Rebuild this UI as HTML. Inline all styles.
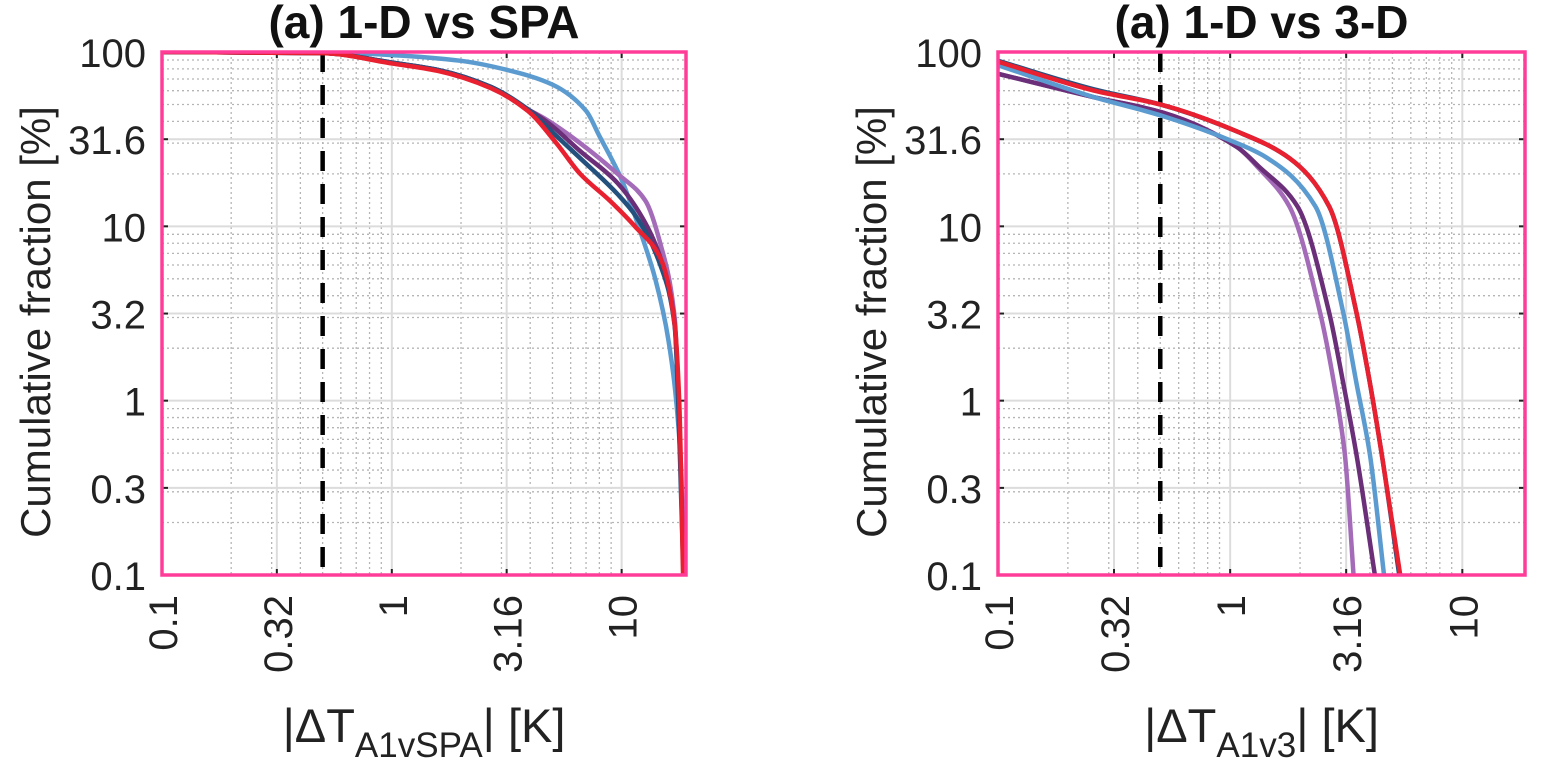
<!DOCTYPE html>
<html><head><meta charset="utf-8">
<style>
html,body{margin:0;padding:0;background:#fff;}
svg{display:block;font-family:"Liberation Sans",Arial,sans-serif;}
</style></head>
<body>
<svg id="fig" width="1542" height="763" viewBox="0 0 1542 763"></svg>
<script>
// ---- data ----
const yTickValues = [0.1, 0.316, 1, 3.16, 10, 31.6, 100];
const yTickLabels = ["0.1", "0.3", "1", "3.2", "10", "31.6", "100"];
const xTickValues = [0.1, 0.316, 1, 3.16, 10];
const xTickLabels = ["0.1", "0.32", "1", "3.16", "10"];
const thresholdK = 0.5;

const seriesNames = ["light-blue", "navy", "dark-purple", "light-purple", "red"];
const seriesColors = ["#5b9bd0", "#24507e", "#6a2f78", "#a36bb8", "#e8202f"];

// Left panel (1-D vs SPA)
const leftLightBlueX = [0.1, 0.3, 0.5, 1, 2, 3.16, 5, 7, 8, 10, 12, 14, 16, 18, 18.8];
const leftLightBlueY = [100, 99.9, 99.6, 96, 89, 79, 65, 46, 33, 18.5, 9.5, 5, 2.2, 0.5, 0.1];
const leftNavyX = [0.1, 0.5, 1, 1.58, 2.7, 3.9, 5.2, 6.6, 9.6, 11.5, 14.8, 17, 18.6];
const leftNavyY = [100, 98.5, 87, 79, 63, 47, 33, 24.6, 15.3, 11.5, 5.9, 2.7, 0.1];
const leftDarkPurpleX = [0.1, 0.5, 1, 1.58, 2.7, 3.9, 4.7, 6.6, 9.6, 12.7, 14.8, 17, 18.7];
const leftDarkPurpleY = [100, 98.5, 87, 79, 63, 47, 40, 27, 17.7, 10.4, 6.5, 2.8, 0.1];
const leftLightPurpleX = [0.1, 0.5, 1, 1.58, 2.7, 3.9, 4.7, 6.6, 9.6, 12.7, 14.8, 17, 18.7];
const leftLightPurpleY = [100, 98.5, 87, 79, 63, 47, 41, 30, 20, 14, 7.8, 3, 0.1];
const leftRedX = [0.1, 0.5, 1, 1.58, 2.7, 3.9, 5.2, 6.6, 8.9, 11.5, 14.8, 17, 17.8, 18.5];
const leftRedY = [100, 98.5, 86, 78, 62, 46, 30, 20, 14, 9.9, 6.5, 2.75, 1, 0.1];

// Right panel (1-D vs 3-D)
const rightLightBlueX = [0.1, 0.26, 0.51, 1.07, 1.42, 2.33, 3.07, 3.5, 4.0, 4.6];
const rightLightBlueY = [84, 55, 43, 30, 25, 13, 3.2, 1.26, 0.49, 0.1];
const rightNavyX = [0.1, 0.26, 0.5, 1.07, 1.8, 2.67, 3.5, 4.0, 4.5, 5.35];
const rightNavyY = [89, 61, 50, 35, 24.6, 13, 3.2, 1.26, 0.49, 0.1];
const rightDarkPurpleX = [0.1, 0.26, 0.51, 1.07, 1.33, 1.95, 2.67, 3.07, 3.5, 4.2];
const rightDarkPurpleY = [75, 55, 45, 28.5, 22, 13, 3.2, 1.26, 0.49, 0.1];
const rightLightPurpleX = [0.1, 0.26, 0.51, 1.07, 1.33, 1.8, 2.44, 2.8, 3.12, 3.4];
const rightLightPurpleY = [75, 55, 45, 28.5, 21.5, 13, 3.2, 1.26, 0.49, 0.1];
const rightRedX = [0.1, 0.26, 0.5, 1.07, 1.8, 2.67, 3.5, 4.0, 4.5, 5.4];
const rightRedY = [88, 60, 50, 35, 24.6, 13, 3.2, 1.26, 0.49, 0.1];

// ---- drawing ----
const NS = "http://www.w3.org/2000/svg";
const svg = document.getElementById("fig");
function mk(tag, attrs, parent) {
  const e = document.createElementNS(NS, tag);
  for (const k in attrs) e.setAttribute(k, attrs[k]);
  (parent || svg).appendChild(e);
  return e;
}

// monotone cubic (Fritsch-Carlson) path through pixel points sorted by x
function monotonePath(pts) {
  const n = pts.length;
  const dx = [], m = [];
  for (let i = 0; i < n - 1; i++) { dx.push(pts[i + 1][0] - pts[i][0]); m.push((pts[i + 1][1] - pts[i][1]) / dx[i]); }
  const t = new Array(n);
  t[0] = m[0]; t[n - 1] = m[n - 2];
  for (let i = 1; i < n - 1; i++) {
    if (m[i - 1] * m[i] <= 0) t[i] = 0;
    else {
      const w1 = 2 * dx[i] + dx[i - 1], w2 = dx[i] + 2 * dx[i - 1];
      t[i] = (w1 + w2) / (w1 / m[i - 1] + w2 / m[i]);
    }
  }
  let d = "M" + pts[0][0] + "," + pts[0][1];
  for (let i = 0; i < n - 1; i++) {
    const h = dx[i] / 3;
    d += " C" + (pts[i][0] + h) + "," + (pts[i][1] + t[i] * h) + " " + (pts[i + 1][0] - h) + "," + (pts[i + 1][1] - t[i + 1] * h) + " " + pts[i + 1][0] + "," + pts[i + 1][1];
  }
  return d;
}

function drawPanel(p) {
  const g = mk("g", {});
  
  
  const xs = v => p.x0 + (Math.log10(v) + 1) / (p.xmaxLog + 1) * (p.x1 - p.x0);
  const ys = v => p.y1 - (Math.log10(v) + 1) / 3 * (p.y1 - p.y0);

  const cid = p.name + "-clip";
  const defs = mk("defs", {}, g);
  const cp = mk("clipPath", { id: cid }, defs);
  mk("rect", { x: p.x0, y: p.y0, width: p.x1 - p.x0, height: p.y1 - p.y0 }, cp);

  const grid = mk("g", {}, g);
  
  
  for (let d = -1; d <= 1; d++) {
    for (let m = 2; m <= 9; m++) {
      const X = xs(m * Math.pow(10, d));
      if (X < p.x1 - 1) mk("line", { x1: X, x2: X, y1: p.y0, y2: p.y1, stroke: "#b5b5b5", "stroke-width": 1.3, "stroke-dasharray": "2,3" }, grid);
    }
  }
  for (let d = -1; d <= 1; d++) {
    for (let m = 2; m <= 9; m++) {
      const Y = ys(m * Math.pow(10, d));
      mk("line", { x1: p.x0, x2: p.x1, y1: Y, y2: Y, stroke: "#b5b5b5", "stroke-width": 1.3, "stroke-dasharray": "2,3" }, grid);
    }
  }
  xTickValues.forEach(v => {
    const X = xs(v);
    mk("line", { x1: X, x2: X, y1: p.y0, y2: p.y1, stroke: "#dcdcdc", "stroke-width": 2 }, grid);
    mk("line", { x1: X, x2: X, y1: p.y1, y2: p.y1 - 6, stroke: "#222", "stroke-width": 2 }, grid);
    mk("line", { x1: X, x2: X, y1: p.y0, y2: p.y0 + 6, stroke: "#222", "stroke-width": 2 }, grid);
  });
  yTickValues.forEach(v => {
    const Y = ys(v);
    mk("line", { x1: p.x0, x2: p.x1, y1: Y, y2: Y, stroke: "#dcdcdc", "stroke-width": 2 }, grid);
    mk("line", { x1: p.x0, x2: p.x0 + 6, y1: Y, y2: Y, stroke: "#222", "stroke-width": 2 }, grid);
    mk("line", { x1: p.x1, x2: p.x1 - 6, y1: Y, y2: Y, stroke: "#222", "stroke-width": 2 }, grid);
  });

  const th = mk("line", { x1: xs(thresholdK), x2: xs(thresholdK), y1: p.y0, y2: p.y1, stroke: "#000", "stroke-width": 4.5, "stroke-dasharray": "20,13", "clip-path": "url(#" + cid + ")" }, g);
  
  

  p.series.forEach(s => {
    const pts = s.x.map((v, k) => [xs(v), ys(s.y[k])]);
    const path = mk("path", { d: monotonePath(pts), fill: "none", stroke: s.color, "stroke-width": 4.5, "stroke-linejoin": "round", "clip-path": "url(#" + cid + ")" }, g);
    
    
  });

  const fr = mk("rect", { x: p.x0, y: p.y0, width: p.x1 - p.x0, height: p.y1 - p.y0, fill: "none", stroke: "#ff3d99", "stroke-width": 3.5 }, g);
  
  

  yTickValues.forEach((v, i) => {
    const t = mk("text", { x: p.x0 - 16, y: ys(v) + 15, "text-anchor": "end", "font-size": 40, fill: "#222" }, g);
    t.textContent = yTickLabels[i];
    
    
  });
  xTickValues.forEach((v, i) => {
    const X = xs(v) + 15, Y = p.y1 + 20;
    const t = mk("text", { x: X, y: Y, "text-anchor": "end", "font-size": 40, fill: "#222", transform: "rotate(-90 " + X + " " + Y + ")" }, g);
    t.textContent = xTickLabels[i];
    
    
  });
  const cy = 322;
  const yt = mk("text", { x: p.ylabX, y: cy, "text-anchor": "middle", "font-size": 42, fill: "#222", transform: "rotate(-90 " + p.ylabX + " " + cy + ")" }, g);
  yt.textContent = "Cumulative fraction [%]";
  
  
  const cx = (p.x0 + p.x1) / 2;
  const xt = mk("text", { x: cx, y: 742, "text-anchor": "middle", "font-size": 47, fill: "#222" }, g);
  
  
  const a = mk("tspan", {}, xt); a.textContent = "|\u0394T";
  const b = mk("tspan", { "font-size": 35, dy: 15 }, xt); b.textContent = p.sub;
  const c = mk("tspan", { dy: -15 }, xt); c.textContent = "| [K]";
  const tt = mk("text", { x: cx, y: 38, "text-anchor": "middle", "font-size": 46, "font-weight": "bold", fill: "#111" }, g);
  tt.textContent = p.title;
  
  
}

drawPanel({
  name: "panel-1d-vs-spa", x0: 162, x1: 686, y0: 52, y1: 575, xmaxLog: 1.28, ylabX: 50,
  title: "(a) 1-D vs SPA", sub: "A1vSPA",
  series: [
    { name: seriesNames[0], color: seriesColors[0], x: leftLightBlueX, y: leftLightBlueY },
    { name: seriesNames[3], color: seriesColors[3], x: leftLightPurpleX, y: leftLightPurpleY },
    { name: seriesNames[2], color: seriesColors[2], x: leftDarkPurpleX, y: leftDarkPurpleY },
    { name: seriesNames[1], color: seriesColors[1], x: leftNavyX, y: leftNavyY },
    { name: seriesNames[4], color: seriesColors[4], x: leftRedX, y: leftRedY }
  ]
});
drawPanel({
  name: "panel-1d-vs-3d", x0: 998, x1: 1525, y0: 52, y1: 575, xmaxLog: 1.27, ylabX: 886,
  title: "(a) 1-D vs 3-D", sub: "A1v3",
  series: [
    { name: seriesNames[3], color: seriesColors[3], x: rightLightPurpleX, y: rightLightPurpleY },
    { name: seriesNames[2], color: seriesColors[2], x: rightDarkPurpleX, y: rightDarkPurpleY },
    { name: seriesNames[0], color: seriesColors[0], x: rightLightBlueX, y: rightLightBlueY },
    { name: seriesNames[1], color: seriesColors[1], x: rightNavyX, y: rightNavyY },
    { name: seriesNames[4], color: seriesColors[4], x: rightRedX, y: rightRedY }
  ]
});
</script>
</body></html>
